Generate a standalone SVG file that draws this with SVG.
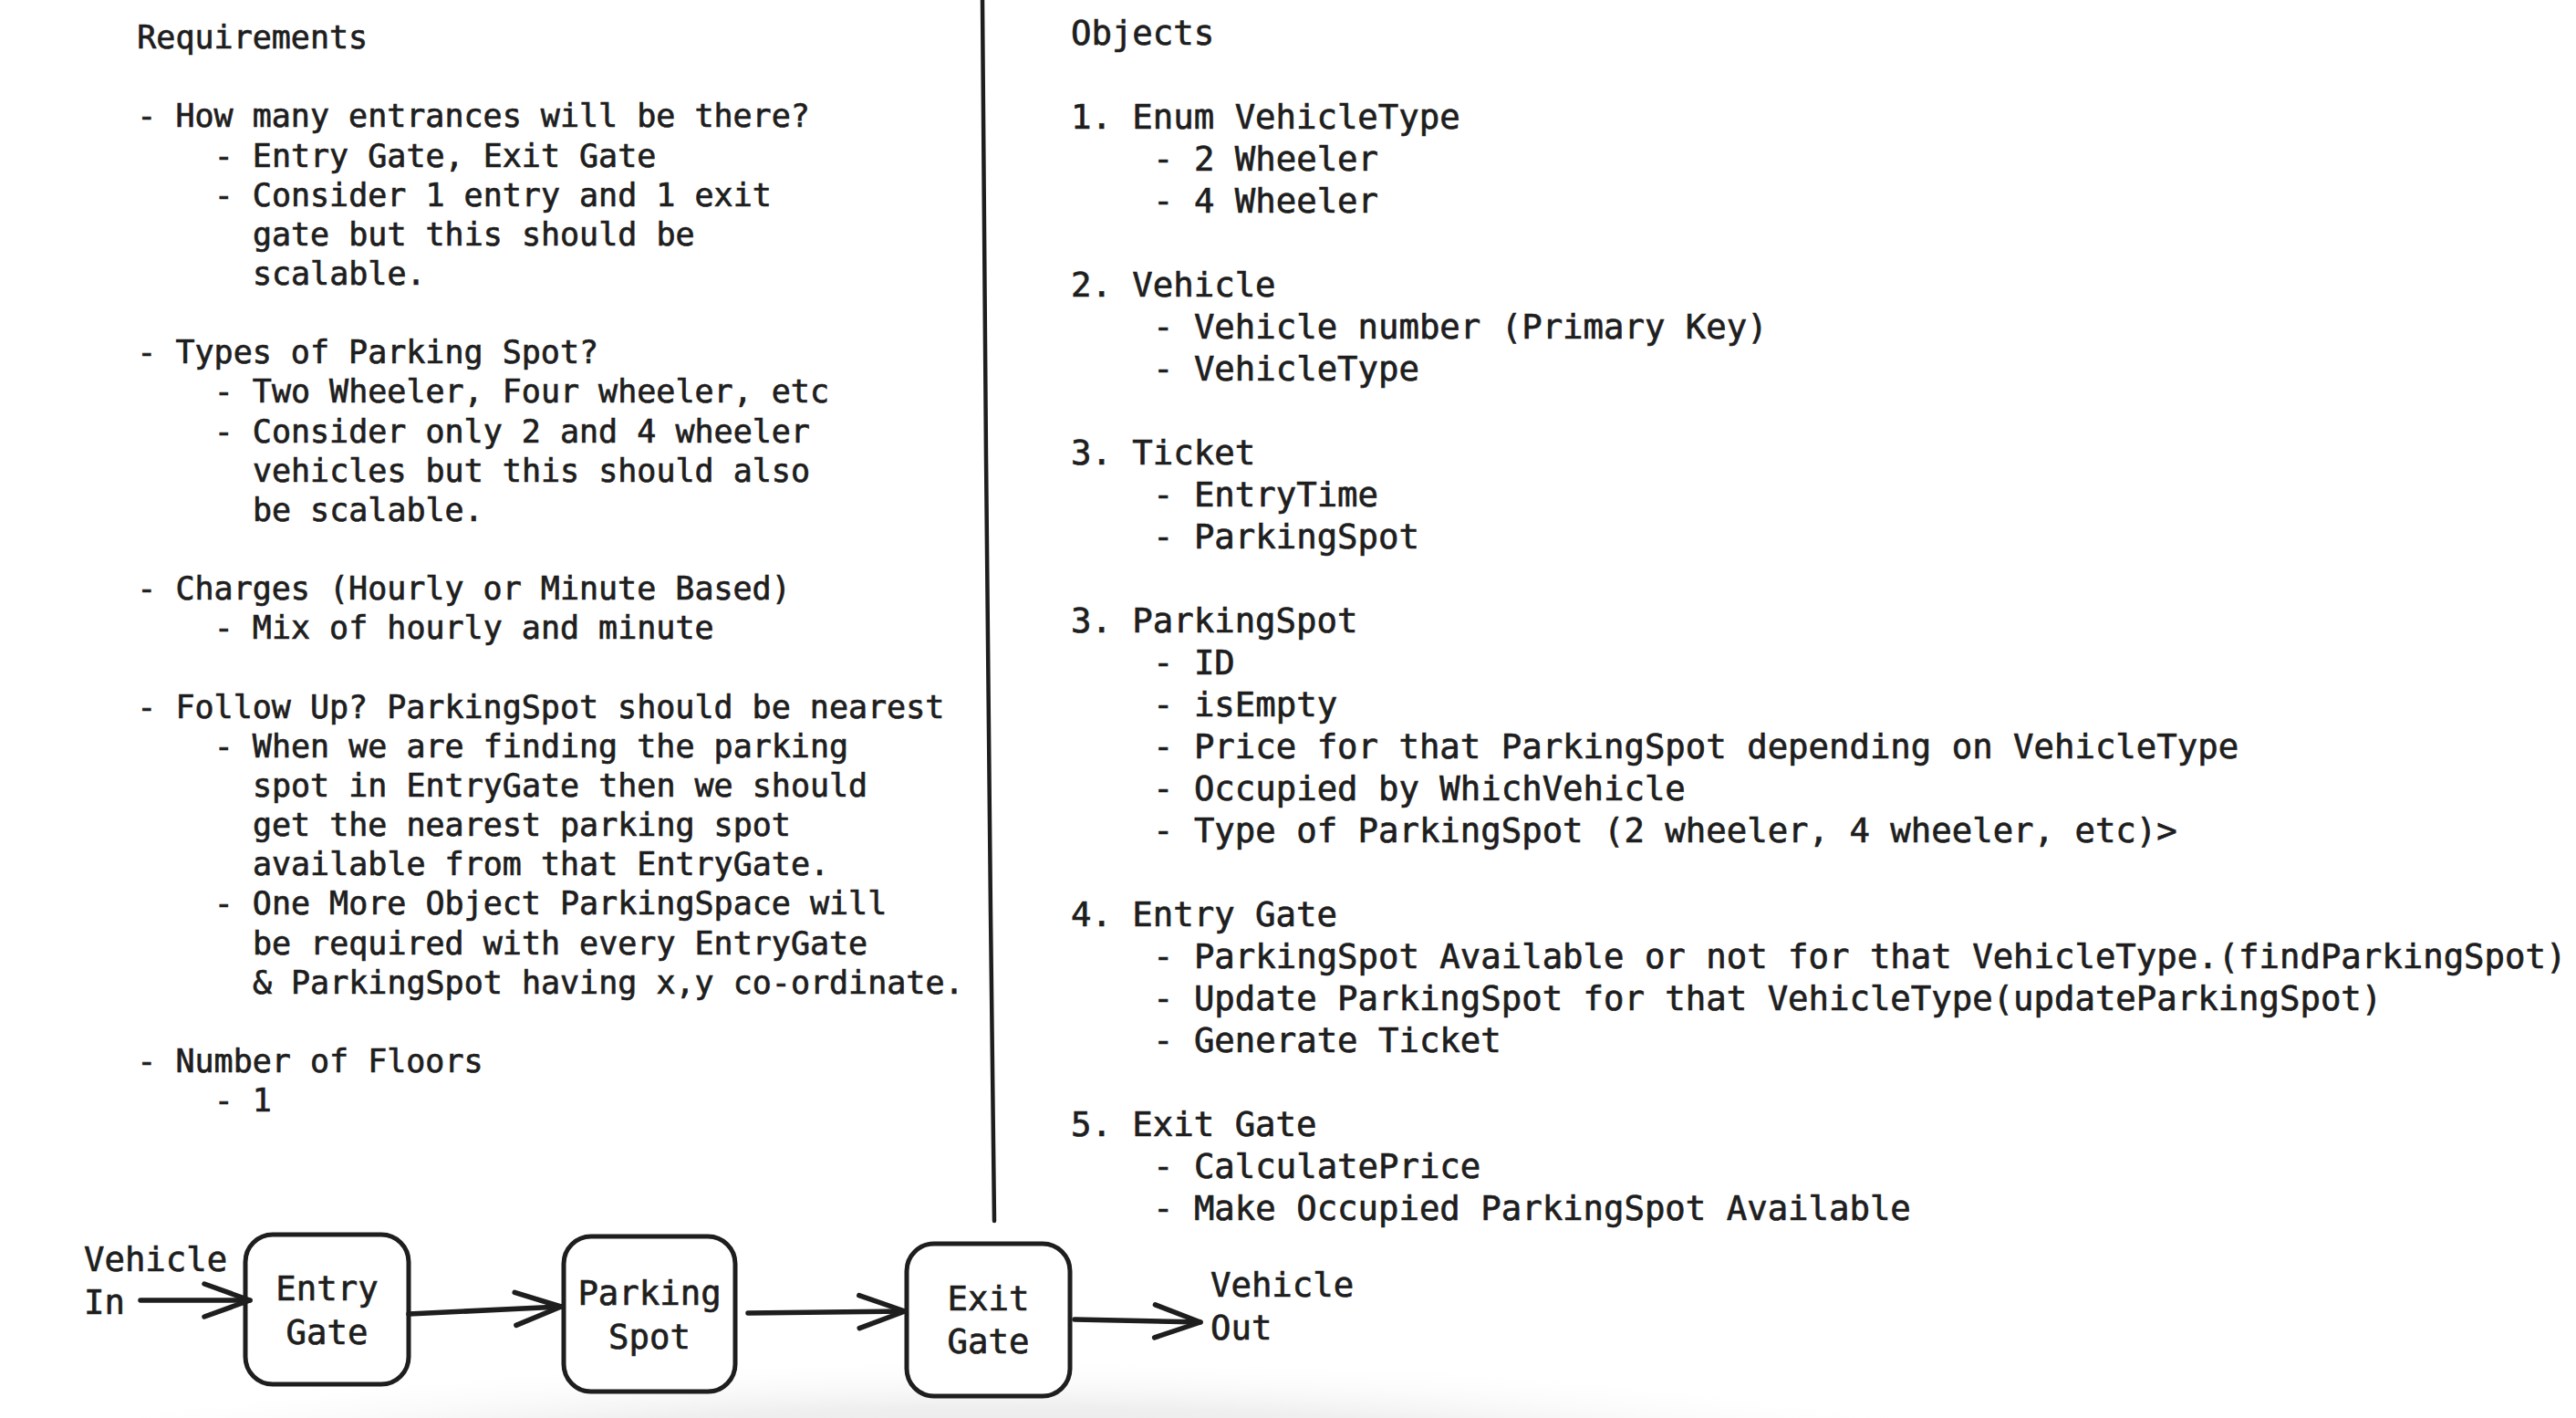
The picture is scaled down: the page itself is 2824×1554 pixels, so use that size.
<svg xmlns="http://www.w3.org/2000/svg" width="2824" height="1554" viewBox="0 0 2824 1554">
<defs>
<style>
.t{font-family:"DejaVu Sans Mono","Liberation Mono",monospace;fill:#1e1e1e;stroke:#1e1e1e;stroke-width:0.7}
.l{font-size:35px}
.r{font-size:37.3px}
.c{text-anchor:middle}
.box{fill:#ffffff;stroke:#1e1e1e;stroke-width:5}
.edge{fill:none;stroke:#1e1e1e;stroke-width:5.5;stroke-linecap:round;stroke-linejoin:round}
</style>
<marker id="arr" markerUnits="userSpaceOnUse" markerWidth="80" markerHeight="60" refX="0" refY="0" viewBox="-60 -30 70 60" orient="auto" overflow="visible">
<path d="M-50 -18 L0 0 L-50 18" fill="none" stroke="#1e1e1e" stroke-width="5.5" stroke-linecap="round" stroke-linejoin="round"/>
</marker>
<radialGradient id="shade" cx="0.5" cy="0.5" r="0.5">
<stop offset="0" stop-color="#e4e4e4"/>
<stop offset="0.55" stop-color="#efefef"/>
<stop offset="1" stop-color="#ffffff" stop-opacity="0"/>
</radialGradient>
</defs>
<rect x="0" y="0" width="2824" height="1554" fill="#ffffff"/>
<ellipse cx="1100" cy="1610" rx="1180" ry="125" fill="url(#shade)"/>

<g id="requirements" class="t l">
<text x="150.3" y="53">Requirements</text>
<text x="150.3" y="139.3">- How many entrances will be there?</text>
<text x="234.7" y="182.5">- Entry Gate, Exit Gate</text>
<text x="234.7" y="225.6">- Consider 1 entry and 1 exit</text>
<text x="276.9" y="268.8">gate but this should be</text>
<text x="276.9" y="311.9">scalable.</text>
<text x="150.3" y="398.2">- Types of Parking Spot?</text>
<text x="234.7" y="441.4">- Two Wheeler, Four wheeler, etc</text>
<text x="234.7" y="484.5">- Consider only 2 and 4 wheeler</text>
<text x="276.9" y="527.7">vehicles but this should also</text>
<text x="276.9" y="570.8">be scalable.</text>
<text x="150.3" y="657.1">- Charges (Hourly or Minute Based)</text>
<text x="234.7" y="700.3">- Mix of hourly and minute</text>
<text x="150.3" y="786.6">- Follow Up? ParkingSpot should be nearest</text>
<text x="234.7" y="829.7">- When we are finding the parking</text>
<text x="276.9" y="872.9">spot in EntryGate then we should</text>
<text x="276.9" y="916">get the nearest parking spot</text>
<text x="276.9" y="959.2">available from that EntryGate.</text>
<text x="234.7" y="1002.3">- One More Object ParkingSpace will</text>
<text x="276.9" y="1045.5">be required with every EntryGate</text>
<text x="276.9" y="1088.6">&amp; ParkingSpot having x,y co-ordinate.</text>
<text x="150.3" y="1174.9">- Number of Floors</text>
<text x="234.7" y="1218.1">- 1</text>
</g>

<g id="objects" class="t r">
<text x="1174" y="48.5">Objects</text>
<text x="1174" y="140.5">1. Enum VehicleType</text>
<text x="1264" y="186.5">- 2 Wheeler</text>
<text x="1264" y="232.5">- 4 Wheeler</text>
<text x="1174" y="324.5">2. Vehicle</text>
<text x="1264" y="370.5">- Vehicle number (Primary Key)</text>
<text x="1264" y="416.5">- VehicleType</text>
<text x="1174" y="508.5">3. Ticket</text>
<text x="1264" y="554.5">- EntryTime</text>
<text x="1264" y="600.5">- ParkingSpot</text>
<text x="1174" y="692.5">3. ParkingSpot</text>
<text x="1264" y="738.5">- ID</text>
<text x="1264" y="784.5">- isEmpty</text>
<text x="1264" y="830.5">- Price for that ParkingSpot depending on VehicleType</text>
<text x="1264" y="876.5">- Occupied by WhichVehicle</text>
<text x="1264" y="922.5">- Type of ParkingSpot (2 wheeler, 4 wheeler, etc)&gt;</text>
<text x="1174" y="1014.5">4. Entry Gate</text>
<text x="1264" y="1060.5">- ParkingSpot Available or not for that VehicleType.(findParkingSpot)</text>
<text x="1264" y="1106.5">- Update ParkingSpot for that VehicleType(updateParkingSpot)</text>
<text x="1264" y="1152.5">- Generate Ticket</text>
<text x="1174" y="1244.5">5. Exit Gate</text>
<text x="1264" y="1290.5">- CalculatePrice</text>
<text x="1264" y="1336.5">- Make Occupied ParkingSpot Available</text>
</g>

<g id="divider">
<path d="M1077 0 L1081 500 L1086 1000 L1090 1338" fill="none" stroke="#1e1e1e" stroke-width="4.5" stroke-linecap="round"/>
</g>

<g id="vehicle-in" class="t r">
<text x="92" y="1393">Vehicle</text>
<text x="92" y="1440">In</text>
</g>

<g id="entry-gate">
<rect class="box" x="269" y="1353" width="179" height="164" rx="30" ry="30"/>
<text class="t r c" x="358.5" y="1425">Entry</text>
<text class="t r c" x="358.5" y="1473">Gate</text>
</g>

<g id="parking-spot">
<rect class="box" x="618" y="1355" width="188" height="170" rx="30" ry="30"/>
<text class="t r c" x="712" y="1430">Parking</text>
<text class="t r c" x="712" y="1478">Spot</text>
</g>

<g id="exit-gate">
<rect class="box" x="994" y="1363" width="179" height="167" rx="30" ry="30"/>
<text class="t r c" x="1083.5" y="1436">Exit</text>
<text class="t r c" x="1083.5" y="1483">Gate</text>
</g>

<g id="vehicle-out" class="t r">
<text x="1327" y="1421">Vehicle</text>
<text x="1327" y="1468">Out</text>
</g>

<g id="connectors">
<path class="edge" d="M154 1425 L274 1425" marker-end="url(#arr)"/>
<path class="edge" d="M448 1440 L615 1432" marker-end="url(#arr)"/>
<path class="edge" d="M820 1439 L992 1437" marker-end="url(#arr)"/>
<path class="edge" d="M1178 1446 L1316 1449" marker-end="url(#arr)"/>
</g>
</svg>
